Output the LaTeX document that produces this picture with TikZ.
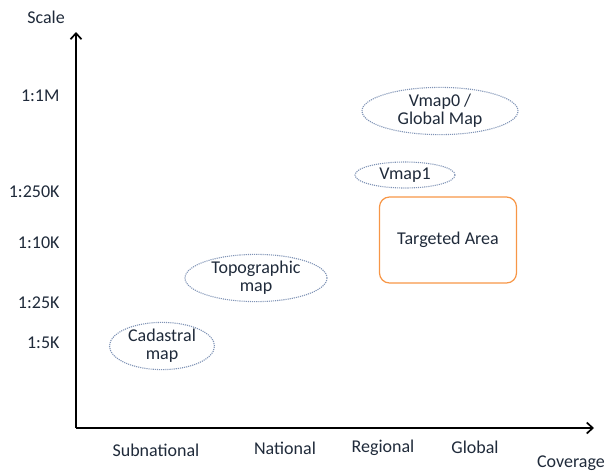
\documentclass[tikz,border=0pt]{standalone}
\usepackage{fontspec}
\setmainfont{Carlito}
\usetikzlibrary{arrows.meta,positioning,shapes.geometric}
\definecolor{MapOrange}{HTML}{F79646}
\definecolor{MapDots}{HTML}{7F93B5}
\definecolor{MapInk}{HTML}{1F2A3A}

\begin{document}
\begin{tikzpicture}[
  x=1pt, y=-1pt,
  font=\fontsize{18}{18}\selectfont,
  mapoval/.style={ellipse, draw=MapDots, densely dotted, line width=1.1pt, inner sep=0pt, align=center, text=MapInk},
  target/.style={draw=MapOrange, line width=1.2pt, rounded corners=10pt, minimum width=137pt, minimum height=86pt, text=MapInk},
  axis/.style={-{Straight Barb[length=6pt,width=11pt]}, line width=1.7pt},
  scalelbl/.style={anchor=east, text=MapInk},
  covlbl/.style={text=MapInk}
]
\useasboundingbox (0,0) rectangle (610,472);
% axes
\coordinate (origin) at (76,428);
\coordinate (ytip) at (76,32);
\coordinate (xtip) at (594,428);
\draw[axis] (origin) -- (ytip);
\draw[axis] (origin) -- (xtip);
\node[text=MapInk] (scale) at (46,17) {Scale};
\node[text=MapInk] (coverage) at (571,463) {Coverage};
% scale labels
\node[scalelbl] (s1m) at (63,96) {1:1M};
\node[scalelbl] (s250k) at (63,192) {1:250K};
\node[scalelbl] (s10k) at (63,243) {1:10K};
\node[scalelbl] (s25k) at (63,303) {1:25K};
\node[scalelbl] (s5k) at (63,343) {1:5K};
% coverage labels
\node[covlbl] (subnat) at (156,450) {Subnational};
\node[covlbl] (nat) at (285,448) {National};
\node[covlbl] (reg) at (383,448) {Regional};
\node[covlbl] (glob) at (475,447) {Global};
% maps
\node[mapoval, minimum width=156pt, minimum height=42pt] (vmap0) at (440,111) {Vmap0 /\\Global Map};
\node[mapoval, minimum width=100pt, minimum height=26pt] (vmap1) at (405,175) {Vmap1};
\node[mapoval, minimum width=142pt, minimum height=47pt] (topo) at (256,278) {Topographic\\map};
\node[mapoval, minimum width=105pt, minimum height=43pt] (cadastral) at (162,346) {Cadastral\\map};
\node[target] (area) at (448,240) {Targeted Area};
\end{tikzpicture}
\end{document}
